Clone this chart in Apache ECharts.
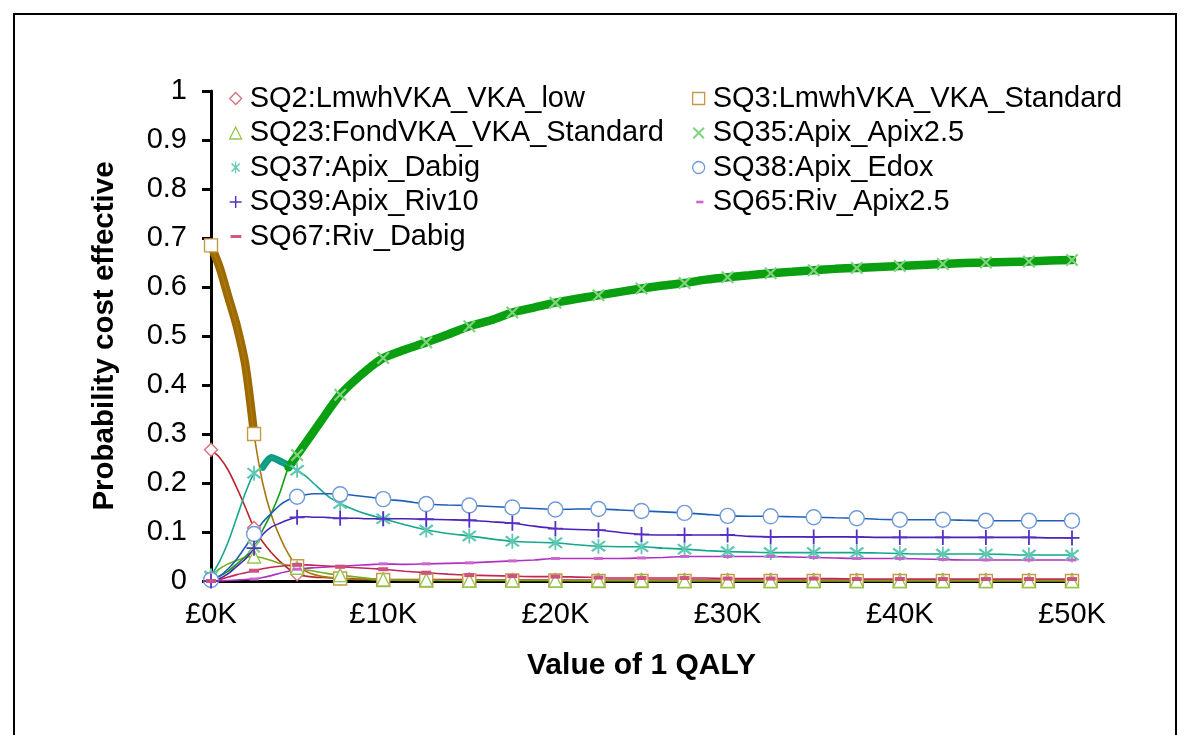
<!DOCTYPE html>
<html><head><meta charset="utf-8">
<script src="https://cdn.jsdelivr.net/npm/echarts@6/dist/echarts.min.js"></script>
<style>html,body{margin:0;padding:0;background:#fff}#c{width:1189px;height:735px}</style>
</head><body><div id="c"></div>
<script>
// Value of 1 QALY (£K)
const xValues = [0,0.5,1,1.5,2,2.5,3,3.5,4,4.5,5,5.5,6,6.5,7,7.5,8,8.5,9,9.5,10,
  11.25,12.5,13.75,15,16.25,17.5,18.75,20,21.25,22.5,23.75,25,26.25,27.5,28.75,30,31.25,32.5,33.75,35,36.25,37.5,38.75,40,41.25,42.5,43.75,45,46.25,47.5,48.75,50];
const xTickLabels = ['£0K','£10K','£20K','£30K','£40K','£50K'];

const sq2 = [0.268,0.252,0.226,0.19,0.15,0.108,0.08,0.058,0.04,0.025,0.014,0.01,0.008,0.007,0.006,0.005,0.005,0.004,0.004,0.004,0.003,
  0.003,0.003,0.003,0.003,0.002,0.002,0.002,0.002,0.002,0.002,0.002,0.002,0.002,0.002,0.002,0.002,0.002,0.002,0.002,0.002,0.002,0.002,0.002,0.002,0.002,0.002,0.002,0.002,0.002,0.002,0.002,0.002];
const sq3 = [0.685,0.64,0.58,0.52,0.44,0.30,0.20,0.135,0.09,0.055,0.03,0.02,0.013,0.009,0.007,0.005,0.004,0.003,0.003,0.002,0.002,
  0.001,0.001,0.001,0.001,0.001,0.001,0.001,0.001,0,0,0,0,0,0,0,0,0,0,0,0,0,0,0,0,0,0,0,0,0,0,0,0];
const sq23 = [0.01,0.025,0.035,0.042,0.048,0.05,0.047,0.042,0.036,0.031,0.027,0.023,0.02,0.017,0.014,0.012,0.01,0.008,0.006,0.004,0.003,
  0.002,0.002,0.001,0.001,0.001,0.001,0.001,0.001,0.001,0.001,0.001,0.001,0,0,0,0,0,0,0,0,0,0,0,0,0,0,0,0,0,0,0,0];
const sq35 = [0.005,0.01,0.02,0.035,0.05,0.07,0.104,0.138,0.18,0.232,0.257,0.282,0.307,0.332,0.357,0.38,0.398,0.414,0.429,0.443,0.455,
  0.472,0.487,0.503,0.52,0.532,0.548,0.558,0.568,0.576,0.583,0.59,0.597,0.603,0.608,0.615,0.62,0.624,0.628,0.631,0.634,0.637,0.639,0.641,0.643,0.645,0.647,0.649,0.65,0.651,0.652,0.654,0.655];
const sq37 = [0.01,0.04,0.08,0.13,0.18,0.22,0.232,0.252,0.245,0.236,0.226,0.214,0.198,0.182,0.168,0.158,0.15,0.143,0.137,0.132,0.127,
  0.115,0.104,0.097,0.092,0.086,0.081,0.079,0.078,0.074,0.071,0.07,0.07,0.067,0.065,0.062,0.06,0.059,0.058,0.058,0.058,0.058,0.058,0.057,0.056,0.055,0.055,0.055,0.055,0.054,0.053,0.053,0.053];
const sq38 = [0.002,0.01,0.025,0.045,0.07,0.096,0.12,0.138,0.155,0.166,0.172,0.176,0.178,0.178,0.178,0.177,0.176,0.174,0.172,0.17,0.167,
  0.163,0.157,0.155,0.154,0.152,0.15,0.148,0.146,0.147,0.147,0.145,0.143,0.141,0.139,0.136,0.133,0.132,0.132,0.131,0.13,0.129,0.128,0.126,0.125,0.125,0.125,0.124,0.123,0.123,0.123,0.123,0.123];
const sq39 = [0,0.005,0.015,0.03,0.045,0.067,0.095,0.11,0.118,0.125,0.13,0.131,0.13,0.13,0.129,0.128,0.128,0.128,0.127,0.127,0.127,
  0.127,0.126,0.125,0.124,0.121,0.118,0.112,0.107,0.105,0.104,0.099,0.095,0.094,0.094,0.094,0.094,0.091,0.09,0.09,0.09,0.09,0.09,0.089,0.089,0.089,0.089,0.089,0.089,0.089,0.089,0.088,0.088];
const sq65 = [0,0,0.001,0.002,0.003,0.004,0.007,0.011,0.016,0.02,0.024,0.026,0.027,0.028,0.029,0.03,0.031,0.032,0.033,0.034,0.035,
  0.034,0.035,0.036,0.037,0.039,0.041,0.043,0.046,0.046,0.046,0.046,0.047,0.048,0.05,0.05,0.05,0.05,0.05,0.049,0.048,0.047,0.046,0.046,0.046,0.045,0.044,0.043,0.043,0.043,0.043,0.043,0.043];
const sq67 = [0,0.003,0.008,0.013,0.017,0.021,0.025,0.028,0.03,0.032,0.033,0.033,0.032,0.031,0.03,0.029,0.028,0.027,0.026,0.025,0.024,
  0.02,0.017,0.014,0.012,0.011,0.01,0.009,0.009,0.008,0.007,0.006,0.006,0.006,0.006,0.006,0.005,0.005,0.005,0.005,0.005,0.005,0.004,0.004,0.004,0.004,0.004,0.004,0.004,0.004,0.004,0.004,0.004];

const names = ['SQ2:LmwhVKA_VKA_low','SQ3:LmwhVKA_VKA_Standard','SQ23:FondVKA_VKA_Standard','SQ35:Apix_Apix2.5',
  'SQ37:Apix_Dabig','SQ38:Apix_Edox','SQ39:Apix_Riv10','SQ65:Riv_Apix2.5','SQ67:Riv_Dabig'];
const values = [sq2, sq3, sq23, sq35, sq37, sq38, sq39, sq65, sq67];
// cost-effectiveness frontier segments: [series index, from £K, to £K]
const frontier = [[1, 0, 2.5], [4, 3, 4.5], [3, 4.5, 50]];

const FONT = '"Liberation Sans", Arial, sans-serif';
const P_X = 'path://M0,1.2 L1.2,0 L10,8.8 L8.8,10 Z M8.8,0 L10,1.2 L1.2,10 L0,8.8 Z';
const P_AST = 'path://M0,1.2 L1.2,0 L10,8.8 L8.8,10 Z M8.8,0 L10,1.2 L1.2,10 L0,8.8 Z M4.4,-1.5 L5.6,-1.5 L5.6,11.5 L4.4,11.5 Z';
const P_PLUS = 'path://M4.4,0 L5.6,0 L5.6,10 L4.4,10 Z M0,4.4 L10,4.4 L10,5.6 L0,5.6 Z';
const P_DASH = 'path://M0,0 M0,10 M2,3.9 L8,3.9 L8,6.1 L2,6.1 Z';
const P_DASH2 = 'path://M0,0 M0,10 M0.5,3.8 L9.5,3.8 L9.5,6.2 L0.5,6.2 Z';
const styles = [
  {line:'#B8282A', mk:'#D8707A', sym:'diamond', icon:'diamond', hollow:true, size:13},
  {line:'#A8780E', mk:'#C49A48', sym:'rect', icon:'rect', hollow:true, size:13},
  {line:'#78AC1A', mk:'#92C84A', sym:'triangle', icon:'triangle', hollow:true, size:13},
  {line:'#10A010', mk:'#80D480', sym:P_X, icon:P_X, hollow:false, size:13},
  {line:'#14A88C', mk:'#60C8B2', sym:P_AST, icon:P_AST, hollow:false, size:15},
  {line:'#1E5EB8', mk:'#6E9AD8', sym:'circle', icon:'circle', hollow:true, size:15},
  {line:'#4A20B8', mk:'#5530C4', sym:P_PLUS, icon:P_PLUS, hollow:false, size:15},
  {line:'#B030C0', mk:'#CC66CC', sym:'rect', icon:P_DASH, hollow:false, size:[9,3]},
  {line:'#C02858', mk:'#D05080', sym:'rect', icon:P_DASH2, hollow:false, size:[10,4]}
];
const frontierColors = {1:'#9E6A00', 4:'#0E9A80', 3:'#08A010'};

const series = [];
frontier.forEach(([si, a, b]) => {
  const d = [];
  xValues.forEach((x, i) => { if (x >= a && x <= b) d.push([x, values[si][i]]); });
  series.push({type:'line', name:'_frontier'+si, data:d, showSymbol:false, smooth:0.25,
    lineStyle:{color:frontierColors[si], width: si===4 ? 7 : 8.5, cap:'round'}, silent:true, z:2});
});
names.forEach((n, si) => {
  const st = styles[si];
  series.push({
    type:'line', name:n, smooth:0.25, symbol:st.sym, symbolSize:st.size,
    data: xValues.map((x, i) => (x % 2.5 === 0) ? [x, values[si][i]] : {value:[x, values[si][i]], symbol:'none'}),
    lineStyle:{color:st.line, width:1.6},
    itemStyle: st.hollow ? {color:'#fff', borderColor:st.mk, borderWidth:1.4} : {color:st.mk, borderWidth:0},
    z:3
  });
});

function legendItem(si){
  const st = styles[si];
  return {name:names[si], icon: st.icon,
    itemStyle: st.hollow ? {color:'#fff', borderColor:st.mk, borderWidth:1.3} : {color:st.mk, borderWidth:0}};
}
const legendBase = {orient:'vertical', top:84, padding:0, itemGap:5.5, itemWidth:12, itemHeight:12,
  selectedMode:false, textStyle:{fontSize:29, fontFamily:FONT, color:'#000', padding:[0,0,0,3]}};

const chart = echarts.init(document.getElementById('c'), null, {renderer:'canvas'});
chart.setOption({
  animation:false,
  backgroundColor:'#fff',
  graphic:[{type:'rect', shape:{x:14, y:14, width:1162, height:780}, style:{fill:'none', stroke:'#000', lineWidth:2}, silent:true, z:-10}],
  grid:{left:211, right:117, top:91, bottom:154, containLabel:false},
  legend:[
    Object.assign({}, legendBase, {left:229, data:[0,2,4,6,8].map(legendItem)}),
    Object.assign({}, legendBase, {left:692, data:[1,3,5,7].map(legendItem)})
  ],
  xAxis:{type:'value', min:0, max:50, interval:10,
    name:'Value of 1 QALY', nameLocation:'middle', nameGap:70,
    nameTextStyle:{fontSize:30, fontWeight:'bold', fontFamily:FONT, color:'#000'},
    axisLine:{lineStyle:{color:'#000', width:3}},
    axisTick:{show:true, length:6, lineStyle:{color:'#000', width:3}},
    axisLabel:{fontSize:29, fontFamily:FONT, color:'#000', margin:19,
      formatter:(v) => xTickLabels[Math.round(v/10)]},
    splitLine:{show:false}},
  yAxis:{type:'value', min:0, max:1, interval:0.1,
    name:'Probability cost effective', nameLocation:'middle', nameGap:91,
    nameTextStyle:{fontSize:29.5, fontWeight:'bold', fontFamily:FONT, color:'#000'},
    axisLine:{lineStyle:{color:'#000', width:3}},
    axisTick:{show:true, length:9, lineStyle:{color:'#000', width:3}},
    axisLabel:{fontSize:29, fontFamily:FONT, color:'#000', margin:24,
      formatter:(v) => String(Math.round(v*10)/10)},
    splitLine:{show:false}},
  series: series
});
</script></body></html>
